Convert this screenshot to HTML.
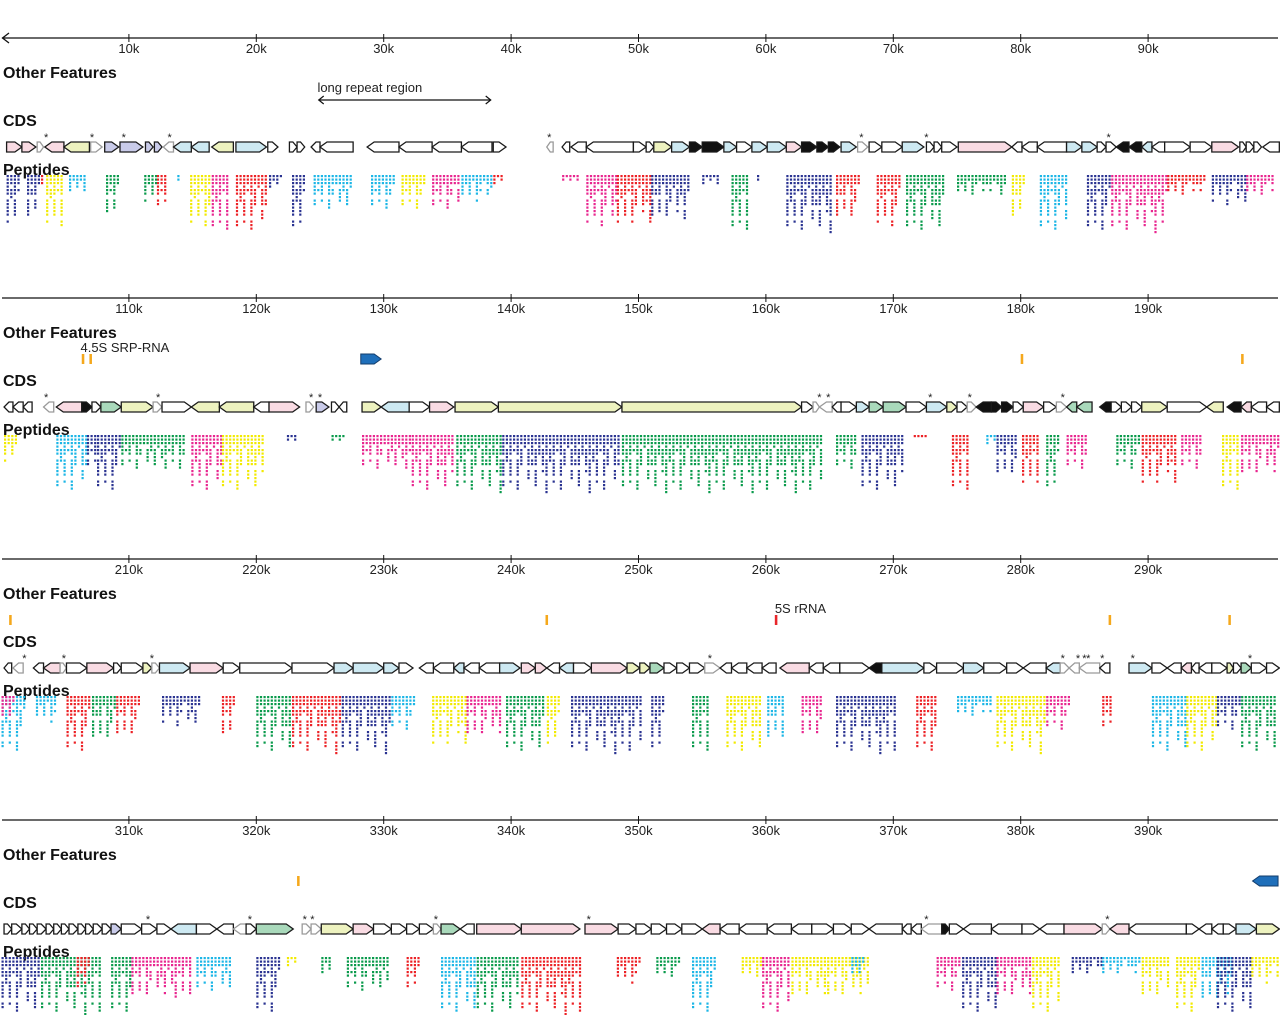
<!DOCTYPE html>
<html><head><meta charset="utf-8">
<style>
html,body{margin:0;padding:0;background:#fff;}
svg{display:block;font-family:"Liberation Sans",Arial,sans-serif;}
</style></head>
<body>
<svg id="chart" width="1280" height="1015" viewBox="0 0 1280 1015" xmlns="http://www.w3.org/2000/svg"></svg>
<script>
// ---------- data (kb, local to each 100kb panel) ----------
const panelOffsets = [0, 100, 200, 300];
const panelAxisY = [38, 298, 559, 820];
const tickLabels = [["10k","20k","30k","40k","50k","60k","70k","80k","90k"],
  ["110k","120k","130k","140k","150k","160k","170k","180k","190k"],
  ["210k","220k","230k","240k","250k","260k","270k","280k","290k"],
  ["310k","320k","330k","340k","350k","360k","370k","380k","390k"]];
const tickValues = [10,20,30,40,50,60,70,80,90];

const genes1 = [[0.4,1.6,'R','p'],[1.6,2.7,'R','p'],[2.8,3.3,'R','g'],[3.4,4.9,'L','p'],[4.9,6.9,'L','y'],[7.0,7.9,'R','g'],[8.1,9.2,'R','v'],[9.3,11.1,'R','v'],[11.3,11.9,'R','v'],[12.0,12.6,'R','v'],[12.7,13.5,'L','g'],[13.5,14.9,'L','b'],[14.9,16.3,'L','b'],[16.5,18.2,'L','y'],[18.4,20.8,'R','b'],[20.9,21.7,'R','w'],[22.6,23.2,'R','w'],[23.2,23.8,'R','w'],[24.3,25.0,'L','w'],[25.0,27.6,'L','w'],[28.7,31.2,'L','w'],[31.2,33.8,'L','w'],[33.8,36.1,'L','w'],[36.1,38.5,'L','w'],[38.6,39.6,'R','w'],
[42.8,43.3,'L','g'],[44.0,44.6,'L','w'],[44.7,45.9,'L','w'],[45.9,49.6,'L','w'],[49.6,50.6,'R','w'],[50.6,51.2,'R','w'],[51.2,52.6,'R','y'],[52.6,54.0,'R','b'],[54.0,55.0,'R','k'],[55.0,56.7,'R','k'],[56.7,57.7,'R','b'],[57.7,58.9,'R','w'],[58.9,60.1,'R','b'],[60.1,61.6,'R','b'],[61.6,62.8,'R','p'],[62.8,64.0,'R','k'],[64.0,64.9,'R','k'],[64.9,65.8,'R','k'],[65.9,67.1,'R','b'],[67.2,68.0,'R','g'],[68.1,69.1,'R','w'],[69.1,70.7,'R','w'],[70.7,72.4,'R','b'],[72.6,73.2,'R','w'],[73.2,73.8,'R','w'],[73.8,75.0,'R','w'],[75.1,79.3,'R','p'],[79.3,80.1,'L','w'],[80.1,81.3,'L','w'],[81.3,83.6,'L','w'],[83.6,84.8,'R','b'],[84.8,86.0,'R','b'],[86.0,86.7,'R','w'],[86.7,87.5,'R','w'],[87.5,88.5,'L','k'],[88.5,89.5,'L','k'],[89.5,90.3,'L','b'],[90.3,91.3,'L','w'],[91.3,93.3,'R','w'],[93.3,95.0,'R','w'],[95.0,97.1,'R','p'],[97.2,97.7,'R','w'],[97.7,98.3,'R','w'],[98.3,98.9,'R','w'],[99.0,100.3,'L','w']];
const genes2 = [[0.2,0.9,'L','w'],[0.9,1.7,'L','w'],[1.7,2.4,'L','w'],[3.3,4.1,'L','g'],[4.3,6.3,'L','p'],[6.3,7.1,'R','k'],[7.1,7.8,'R','w'],[7.8,9.4,'R','gr'],[9.4,11.9,'R','y'],[11.9,12.6,'R','g'],[12.6,14.9,'R','w'],[14.9,17.1,'L','y'],[17.1,19.8,'L','y'],[19.8,21.0,'L','w'],[21.0,23.4,'R','p'],[23.9,24.5,'R','g'],[24.7,25.7,'R','v'],[25.9,26.5,'R','w'],[26.5,27.1,'L','w'],[28.3,29.8,'R','y'],[29.8,32.0,'L','b'],[32.0,33.6,'R','w'],[33.6,35.5,'R','p'],[35.6,39.0,'R','y'],[39.0,48.7,'R','y'],[48.7,62.8,'R','y'],[62.8,63.7,'R','w'],[63.7,64.2,'R','g'],[64.2,65.2,'L','g'],[65.2,65.9,'L','w'],[65.9,67.1,'R','w'],[67.1,68.1,'R','b'],[68.1,69.2,'R','gr'],[69.2,71.0,'R','gr'],[71.0,72.6,'R','w'],[72.6,74.2,'R','b'],[74.2,75.0,'R','y'],[75.0,75.8,'R','w'],[75.8,76.5,'R','g'],[76.5,77.7,'L','k'],[77.7,78.5,'R','k'],[78.5,79.4,'R','k'],[79.4,80.2,'R','w'],[80.2,81.8,'R','p'],[81.8,82.8,'R','w'],[82.8,83.6,'R','g'],[83.6,84.4,'L','gr'],[84.4,85.6,'L','gr'],[86.2,87.1,'L','k'],[87.1,87.9,'R','w'],[87.9,88.7,'R','w'],[88.7,89.5,'R','w'],[89.5,91.5,'R','y'],[91.5,94.6,'R','w'],[94.6,95.9,'L','y'],[96.2,97.3,'L','k'],[97.3,98.1,'L','p'],[98.1,99.3,'L','w'],[99.3,100.3,'L','w']];
const genes3 = [[0.2,0.8,'L','w'],[0.9,1.7,'L','g'],[2.5,3.3,'L','w'],[3.3,4.6,'L','p'],[4.6,5.1,'R','g'],[5.1,6.7,'R','w'],[6.7,8.8,'R','p'],[8.8,9.4,'R','w'],[9.4,11.1,'R','w'],[11.1,11.8,'R','y'],[11.8,12.4,'R','g'],[12.4,14.8,'R','b'],[14.8,17.4,'R','p'],[17.4,18.7,'R','w'],[18.7,22.8,'R','w'],[22.8,26.1,'R','w'],[26.1,27.6,'R','b'],[27.6,30.0,'R','b'],[30.0,31.2,'R','b'],[31.2,32.3,'R','w'],[32.8,33.9,'L','w'],[33.9,35.5,'L','w'],[35.5,36.3,'L','b'],[36.3,37.5,'L','w'],[37.5,39.1,'L','w'],[39.1,40.7,'R','b'],[40.8,41.9,'R','p'],[41.9,42.8,'R','p'],[42.8,43.8,'L','w'],[43.8,44.9,'L','b'],[44.9,46.3,'R','w'],[46.3,49.1,'R','p'],[49.1,50.1,'R','y'],[50.1,50.9,'R','y'],[50.9,52.0,'R','gr'],[52.0,53.0,'R','w'],[53.0,54.0,'R','w'],[54.0,55.2,'R','w'],[55.2,56.4,'R','g'],[56.4,57.3,'L','w'],[57.3,58.5,'L','w'],[58.5,59.7,'L','w'],[59.7,60.8,'L','w'],[61.1,63.4,'L','p'],[63.4,64.5,'L','w'],[64.5,65.8,'L','w'],[65.8,68.1,'R','w'],[68.1,69.1,'L','k'],[69.1,72.4,'R','b'],[72.4,73.4,'R','w'],[73.4,75.5,'R','w'],[75.5,77.1,'R','b'],[77.1,78.9,'R','w'],[78.9,80.2,'R','w'],[80.2,82.0,'L','w'],[82.0,83.1,'L','b'],[83.1,83.8,'R','g'],[83.8,84.6,'L','g'],[84.6,86.2,'L','g'],[86.2,87.0,'L','w'],[88.5,90.3,'R','b'],[90.3,91.5,'R','w'],[91.5,92.6,'L','w'],[92.6,93.4,'L','p'],[93.4,94.0,'L','w'],[94.0,95.0,'L','w'],[95.0,96.2,'R','w'],[96.2,96.7,'R','y'],[96.7,97.3,'R','w'],[97.3,98.1,'R','gr'],[98.1,99.3,'R','w'],[99.3,100.3,'R','w']];
const genes4 = [[0.2,0.8,'R','w'],[0.8,1.6,'R','w'],[1.6,2.2,'R','w'],[2.2,2.8,'R','w'],[2.8,3.5,'R','w'],[3.5,4.1,'R','w'],[4.1,4.7,'R','w'],[4.7,5.3,'R','w'],[5.3,6.0,'R','w'],[6.0,6.6,'R','w'],[6.6,7.2,'R','w'],[7.2,7.9,'R','w'],[7.9,8.6,'R','w'],[8.6,9.4,'R','v'],[9.4,11.0,'R','w'],[11.0,12.2,'R','w'],[12.2,13.3,'R','w'],[13.3,15.3,'L','b'],[15.3,16.9,'R','w'],[16.9,18.2,'L','w'],[18.2,19.2,'L','g'],[19.2,20.0,'R','w'],[20.0,22.9,'R','gr'],[23.6,24.3,'R','g'],[24.3,25.1,'R','g'],[25.1,27.6,'R','y'],[27.6,29.2,'R','p'],[29.2,30.6,'R','w'],[30.6,31.8,'R','w'],[31.8,32.8,'R','w'],[32.8,33.9,'R','w'],[33.9,34.5,'R','g'],[34.5,36.0,'R','gr'],[36.0,37.1,'L','w'],[37.3,40.8,'R','p'],[40.8,45.4,'R','p'],[45.8,48.4,'R','p'],[48.4,49.8,'R','w'],[49.8,51.0,'R','w'],[51.0,52.2,'R','w'],[52.2,53.4,'R','w'],[53.4,55.0,'R','w'],[55.0,56.4,'L','p'],[56.4,57.9,'L','w'],[57.9,60.1,'L','w'],[60.1,62.0,'L','w'],[62.0,63.6,'L','w'],[63.6,65.3,'R','w'],[65.3,66.7,'R','w'],[66.7,68.1,'R','w'],[68.1,70.7,'L','w'],[70.7,71.4,'L','w'],[71.4,72.2,'L','w'],[72.2,73.8,'L','g'],[73.8,74.4,'R','k'],[74.4,75.5,'R','w'],[75.5,77.7,'L','w'],[77.7,80.1,'L','w'],[80.1,81.5,'R','w'],[81.5,83.4,'L','w'],[83.4,86.4,'R','p'],[86.4,87.0,'R','g'],[87.0,88.5,'L','p'],[88.5,93.0,'L','w'],[93.0,94.0,'R','w'],[94.0,95.0,'L','w'],[95.0,95.9,'L','w'],[95.9,96.9,'R','w'],[96.9,98.5,'R','b'],[98.5,100.3,'R','y']];

const stars1 = [3.5,7.1,9.6,13.2,43.0,67.5,72.6,86.9];
const stars2 = [3.5,12.3,24.3,25.0,64.2,64.9,72.9,76.0,83.3];
const stars3 = [1.8,4.9,11.8,55.6,83.3,84.5,85.0,85.3,86.4,88.8,98.0];
const stars4 = [11.5,19.5,23.8,24.4,34.1,46.1,72.6,86.8];

const peps1 = [[0.4,1.4,'B',15],[2.0,3.1,'B',13],[3.1,3.3,'R',3],[3.5,4.9,'Y',16],[5.3,6.7,'C',5],[8.2,9.3,'G',12],[11.2,12.2,'G',9],[12.2,13.0,'R',10],[13.8,14.1,'C',2],[14.8,16.5,'Y',16],[16.5,17.9,'M',17],[18.4,20.8,'R',17],[21.0,22.0,'B',4],[22.8,23.9,'B',17],[24.5,27.5,'C',10],[29.0,31.0,'C',10],[31.4,33.4,'Y',10],[33.8,36.0,'M',10],[36.1,38.5,'C',8],[38.6,39.5,'R',3],[44.0,45.5,'M',2],[45.9,48.3,'M',16],[48.3,51.0,'R',15],[51.0,54.2,'B',14],[55.0,56.5,'B',3],[57.3,58.7,'G',17],[59.3,59.7,'B',2],[61.6,65.2,'B',17],[65.5,67.5,'R',13],[68.7,70.7,'R',16],[71.0,74.2,'G',17],[75.0,78.9,'G',6],[79.3,80.5,'Y',13],[81.5,83.8,'C',17],[85.2,87.1,'B',17],[87.1,91.5,'M',17],[91.5,94.6,'R',6],[95.0,97.7,'B',9],[97.7,99.9,'M',6]];
const peps2 = [[0.2,1.2,'Y',9],[4.3,6.7,'C',17],[6.7,7.5,'B',10],[7.5,9.4,'B',17],[9.4,14.5,'G',10],[14.9,17.3,'M',17],[17.3,20.8,'Y',17],[22.4,23.2,'B',2],[25.9,27.1,'G',2],[28.3,32.2,'M',10],[32.2,35.7,'M',17],[35.7,39.3,'G',17],[39.3,48.7,'B',17],[48.7,64.4,'G',17],[65.5,67.1,'G',10],[67.5,71.0,'B',17],[71.6,72.8,'R',1],[74.6,76.1,'R',17],[77.3,78.1,'C',3],[78.1,79.7,'B',12],[80.1,81.6,'R',15],[82.0,83.2,'G',17],[83.6,85.2,'M',10],[87.5,89.5,'G',10],[89.5,92.2,'R',15],[92.6,94.2,'M',10],[95.8,97.3,'Y',17],[97.3,100.3,'M',12]];
const peps3 = [[0,2.0,'C',17],[0,1.0,'M',8],[2.7,4.3,'C',8],[5.1,7.1,'R',17],[7.1,9.0,'G',14],[9.0,11.0,'R',12],[12.6,15.7,'B',9],[17.3,18.4,'R',12],[20.0,22.8,'G',17],[22.8,26.7,'R',17],[26.7,30.6,'B',17],[30.6,32.6,'C',10],[33.8,36.5,'Y',15],[36.5,39.3,'M',12],[39.6,42.8,'G',17],[42.8,44.0,'Y',15],[44.7,50.2,'B',17],[51.0,52.2,'B',17],[54.2,55.7,'G',17],[56.9,59.7,'Y',17],[60.1,61.6,'C',13],[62.8,64.4,'M',12],[65.5,70.3,'B',17],[71.8,73.4,'R',17],[75.0,77.7,'C',6],[78.1,82.0,'Y',17],[82.0,84.0,'M',10],[86.4,87.1,'R',10],[90.3,93.0,'C',17],[93.0,95.4,'Y',17],[95.4,97.3,'B',10],[97.3,100.1,'G',17]];
const peps4 = [[0,3.1,'B',17],[3.1,7.9,'G',17],[5.9,7.1,'R',10],[8.6,10.2,'G',17],[10.2,14.9,'M',12],[15.3,18.1,'C',10],[20.0,22.0,'B',17],[22.4,23.2,'Y',3],[25.1,25.9,'G',5],[27.1,30.6,'G',10],[31.8,33.0,'R',10],[34.5,37.3,'C',17],[37.3,40.8,'G',17],[40.8,45.5,'R',17],[48.3,50.2,'R',8],[51.4,53.4,'G',6],[54.2,56.1,'C',17],[58.1,59.7,'Y',6],[59.7,62.0,'M',17],[62.0,64.8,'Y',12],[64.8,68.3,'Y',12],[66.7,67.9,'C',6],[73.4,75.4,'M',10],[75.4,78.1,'B',17],[78.1,80.9,'M',12],[80.9,83.2,'Y',17],[84.0,86.4,'B',5],[86.4,89.5,'C',5],[89.5,91.8,'Y',12],[92.2,94.2,'Y',17],[94.2,96.6,'C',14],[95.4,98.1,'B',17],[98.1,100.3,'Y',8]];

const featureMarks = [[1,6.3,6.5,'o'],[1,6.9,7.1,'o'],[1,28.2,29.8,'blueR'],[1,80.0,80.2,'o'],[1,97.3,97.5,'o'],
  [2,0.6,0.8,'o'],[2,42.7,42.9,'o'],[2,60.7,60.9,'r'],[2,86.9,87.1,'o'],[2,96.3,96.4,'o'],
  [3,23.2,23.4,'o'],[3,98.2,100.2,'blueL']];
const featureLabels = [[0,"long repeat region",24.8],[1,"4.5S SRP-RNA",6.2],[2,"5S rRNA",60.7]];
const repeatRegion = [24.9,38.4];

// ---------- drawing ----------
const svg = document.getElementById('chart');
const NS = 'http://www.w3.org/2000/svg';
const KBPX = 12.74, X0 = 1.5;
function xs(kbLocal){ return X0 + kbLocal*KBPX; }
function mk(tag, attrs, parent){ const e=document.createElementNS(NS,tag); for(const k in attrs) e.setAttribute(k,attrs[k]); (parent||svg).appendChild(e); return e; }
const fills = {p:'#f9dbe3',y:'#edf2bf',v:'#c9cbe9',b:'#cde9f2',gr:'#a9d9bb',w:'#ffffff',k:'#111111',g:'#ffffff'};
const pepCols = {B:'#2a3391',Y:'#f2ea00',C:'#1cb6e6',G:'#099a4b',R:'#ec2125',M:'#e8268f'};
const genesAll=[genes1,genes2,genes3,genes4], starsAll=[stars1,stars2,stars3,stars4], pepsAll=[peps1,peps2,peps3,peps4];
const pat=[1,.45,.8,.3,.95,.6,.25,.75,.5,.9,.35,.65];

panelAxisY.forEach((A,pi)=>{
  const g = mk('g',{});
  
  
  const ax = mk('g',{},g);
  
  
  mk('line',{x1:2,y1:A,x2:1278,y2:A,stroke:'#111','stroke-width':1.3},ax);
  if(pi===0){ mk('polyline',{points:`9,${A-5} 2.5,${A} 9,${A+5}`,fill:'none',stroke:'#111','stroke-width':1.3},ax); }
  tickValues.forEach((t,i)=>{
    const x=xs(t);
    mk('line',{x1:x,y1:A-4,x2:x,y2:A+4,stroke:'#111','stroke-width':1},ax);
    const tx=mk('text',{x:x,y:A+15,'font-size':13,'text-anchor':'middle',fill:'#222'},ax);
    
    
    tx.textContent=tickLabels[pi][i];
  });
  [['Other Features',A+40,'other-features-label'],['CDS',A+88,'cds-label'],['Peptides',A+137,'peptides-label']].forEach(([t,y,n])=>{
    const tx=mk('text',{x:3,y:y,'font-size':16,'font-weight':'bold',fill:'#111'},g);
    
    
    tx.textContent=t;
  });
  const top=A+104, H=10, mid=top+H/2;
  genesAll[pi].forEach(gd=>{
    const x1=xs(gd[0]), x2=xs(gd[1]); const h=Math.min(7,(x2-x1)*0.55);
    let pts;
    if(gd[2]==='R') pts=`${x1},${top} ${x2-h},${top} ${x2},${mid} ${x2-h},${top+H} ${x1},${top+H}`;
    else pts=`${x2},${top} ${x1+h},${top} ${x1},${mid} ${x1+h},${top+H} ${x2},${top+H}`;
    const gray = gd[3]==='g';
    const p=mk('polygon',{points:pts,fill:fills[gd[3]],stroke:gray?'#9a9a9a':'#1a1a1a','stroke-width':1.3,'stroke-linejoin':'miter'},g);
    
    
  });
  starsAll[pi].forEach(s=>{
    const t=mk('text',{x:xs(s),y:A+103,'font-size':11,'text-anchor':'middle',fill:'#222'},g);
    
    
    t.textContent='*';
  });
  const py=A+137;
  pepsAll[pi].forEach(pd=>{
    const x1=xs(pd[0]), x2=xs(pd[1]);
    const cl=mk('g',{fill:pepCols[pd[2]]},g);
    
    
    let i=0;
    for(let x=x1;x<=x2-1.5;x+=3.6,i++){
      const d=Math.max(1,Math.round(pd[3]*(i===0?0.9:pat[i%pat.length])));
      for(let r=0;r<d;r++){
        if(r>0 && ((r*7+i*3)%6===0)) continue;
        mk('rect',{x:x.toFixed(1),y:(py+r*3.5).toFixed(1),width:2.2,height:2.2},cl);
      }
    }
  });
});

featureMarks.forEach(f=>{
  const A=panelAxisY[f[0]]; const x1=xs(f[1]), x2=xs(f[2]); const y=A+56;
  let e;
  if(f[3]==='o') e=mk('rect',{x:x1,y:y,width:Math.max(2.5,x2-x1),height:10,fill:'#f5a81c'});
  else if(f[3]==='r') e=mk('rect',{x:x1,y:y,width:Math.max(2.5,x2-x1),height:10,fill:'#e8262a'});
  else if(f[3]==='blueR') e=mk('polygon',{points:`${x1},${y} ${x2-7},${y} ${x2},${y+5} ${x2-7},${y+10} ${x1},${y+10}`,fill:'#1f6fba',stroke:'#133c6b','stroke-width':1});
  else e=mk('polygon',{points:`${x2},${y} ${x1+7},${y} ${x1},${y+5} ${x1+7},${y+10} ${x2},${y+10}`,fill:'#1f6fba',stroke:'#133c6b','stroke-width':1});
  
  
});
featureLabels.forEach(l=>{
  const A=panelAxisY[l[0]];
  const t=mk('text',{x:xs(l[2]),y:A+54,'font-size':13,fill:'#222'});
  
  
  t.textContent=l[1];
});
{
  const y=100, x1=xs(repeatRegion[0]), x2=xs(repeatRegion[1]);
  const r=mk('g',{stroke:'#111','stroke-width':1.2,fill:'none'});
  
  
  mk('line',{x1:x1,y1:y,x2:x2,y2:y},r);
  mk('polyline',{points:`${x1+5},${y-4} ${x1},${y} ${x1+5},${y+4}`},r);
  mk('polyline',{points:`${x2-5},${y-4} ${x2},${y} ${x2-5},${y+4}`},r);
}
</script>
</body></html>
